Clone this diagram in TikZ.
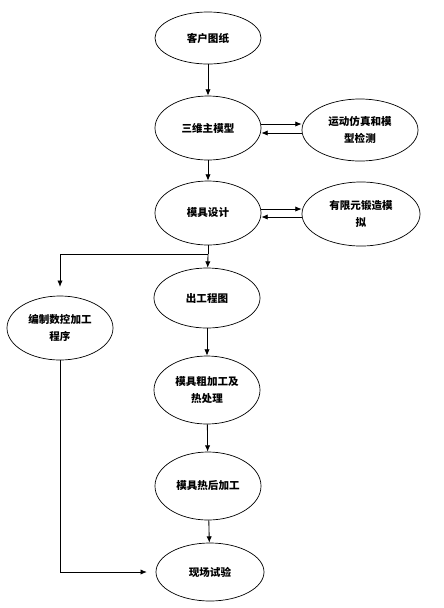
\documentclass[tikz,border=0pt]{standalone}
\usepackage{fontspec}
\newfontfamily\cjk{Noto Sans CJK SC}
\usetikzlibrary{arrows.meta,positioning,shapes.geometric,calc}
\tikzset{
  flownode/.style={draw, ellipse, line width=0.5pt, inner sep=0pt,
                   font=\cjk\bfseries\fontsize{7.5}{11.5}\selectfont,
                   minimum width=2.65cm, minimum height=1.6cm, align=center},
  flowline/.style={line width=0.6pt},
  flowarrow/.style={line width=0.6pt, -{Latex[length=4.5pt, width=3.8pt]}},
}
\begin{document}
\begin{tikzpicture}[x=0.025cm, y=-0.025cm]
\useasboundingbox (0,0) rectangle (443,608);

% --- main column ---
\node[flownode, minimum height=1.3cm] (drawing) at (208,38) {客户图纸};
\node[flownode] (model) at (208,128) {三维主模型};
\node[flownode] (design) at (208,213) {模具设计};
\node[flownode, minimum height=1.5cm] (plans) at (207,298) {出工程图};
\node[flownode, minimum height=1.7cm] (rough) at (207,390) {模具粗加工及\\热处理};
\node[flownode, minimum height=1.7cm] (finish) at (208,486) {模具热后加工};
\node[flownode, minimum width=2.7cm, minimum height=1.45cm] (trial) at (210,572) {现场试验};

% --- side nodes ---
\node[flownode, minimum width=2.9cm, minimum height=1.55cm] (motion) at (360,130) {运动仿真和模\\型检测};
\node[flownode, minimum width=2.95cm] (forging) at (361,214) {有限元锻造模\\拟};
\node[flownode] (cnc) at (60,328) {编制数控加工\\程序};

\coordinate (split) at (208,254);

% --- connectors ---
\draw[flowarrow] (drawing) -- (model);
\draw[flowarrow] (model) -- (design);
\draw[flowarrow] ([yshift=0.1cm]model.east) -- ([yshift=0.1cm]model.east -| motion.west);
\draw[flowarrow] ([yshift=-0.125cm]model.east -| motion.west) -- ([yshift=-0.125cm]model.east);
\draw[flowarrow] ([yshift=0.1cm]design.east) -- ([yshift=0.1cm]design.east -| forging.west);
\draw[flowarrow] ([yshift=-0.1cm]design.east -| forging.west) -- ([yshift=-0.1cm]design.east);
\draw[flowline] (design) -- (split);
\draw[flowarrow] (split) -- (plans);
\draw[flowarrow, shorten >=0.22cm] (split) -| (cnc.north);
\draw[flowarrow] (plans) -- (rough);
\draw[flowarrow] (rough) -- (finish);
\draw[flowarrow] (finish) -- (trial);
\draw[flowarrow, shorten >=0.22cm] (cnc.south) |- (trial.west);

\end{tikzpicture}
\end{document}
